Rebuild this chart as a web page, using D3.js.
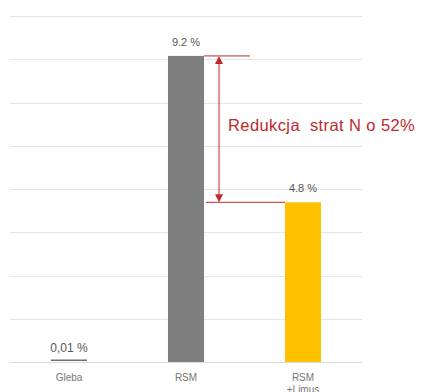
<!DOCTYPE html>
<html><head><meta charset="utf-8">
<script src="https://cdn.jsdelivr.net/npm/d3@7"></script>
<style>body{margin:0;background:#fff}svg{display:block}</style>
</head><body>
<svg id="c" width="423" height="392"></svg>
<script>
const categories = ["Gleba", "RSM", "RSM\n+Limus"];
const values = [0.01, 9.2, 4.8];
const valueLabels = ["0,01 %", "9.2 %", "4.8 %"];
const colors = ["#6f6f6f", "#7f7f7f", "#ffc000"];
const gridTicks = [1.3, 2.6, 3.9, 5.2, 6.5, 7.8, 9.1, 10.4];
const annotationText = "Redukcja  strat N o 52%";

const svg = d3.select("#c");
const x = d3.scaleBand().domain(categories).range([10.5, 361.5]).paddingInner(0.692).paddingOuter(0.346);
const y = d3.scaleLinear().domain([0, 10.4]).range([362, 16]);

// gridlines
svg.append("g").selectAll("line").data(gridTicks).join("line")
  .attr("x1", 10).attr("x2", 362)
  .attr("y1", d => Math.round(y(d)) + 0.5).attr("y2", d => Math.round(y(d)) + 0.5)
  .attr("stroke", "#e4e4e4").attr("stroke-width", 1);

// baseline
svg.append("line").attr("x1", 10).attr("x2", 362)
  .attr("y1", y(0) + 0.5).attr("y2", y(0) + 0.5)
  .attr("stroke", "#d9d9d9");

// bars
svg.append("g").selectAll("rect").data(values).join("rect")
  .attr("x", (d, i) => x(categories[i]))
  .attr("width", x.bandwidth())
  .attr("y", (d) => Math.min(y(d), y(0) - 2.5))
  .attr("height", d => Math.max(y(0) - y(d), 1.5) )
  .attr("fill", (d, i) => colors[i]);

// value labels
const labelSizes = [12, 11, 11];
svg.append("g").selectAll("text").data(values).join("text")
  .attr("x", (d, i) => x(categories[i]) + x.bandwidth() / 2)
  .attr("y", (d, i) => i === 0 ? y(0) - 10 : y(d) - 10)
  .attr("text-anchor", "middle")
  .attr("font-family", "Liberation Sans, Arial, sans-serif")
  .attr("font-size", (d, i) => labelSizes[i])
  .attr("fill", "#555")
  .text((d, i) => valueLabels[i]);

// category labels
const cl = svg.append("g").selectAll("text").data(categories).join("text")
  .attr("x", d => x(d) + x.bandwidth() / 2)
  .attr("y", y(0) + 19)
  .attr("text-anchor", "middle")
  .attr("font-family", "Liberation Sans, Arial, sans-serif")
  .attr("font-size", 10)
  .attr("fill", "#777");
cl.each(function(d) {
  const parts = d.split("\n");
  d3.select(this).selectAll("tspan").data(parts).join("tspan")
    .attr("x", x(d) + x.bandwidth() / 2)
    .attr("dy", (p, j) => j === 0 ? 0 : 12)
    .text(p => p);
});

// annotation
const red = "#c0282d";
const yTop = y(values[1]), yBot = y(values[2]);
const xRsmR = x(categories[1]) + x.bandwidth();
const xLim = x(categories[2]);
const ax = xRsmR + 15;
svg.append("line").attr("x1", xRsmR).attr("x2", xRsmR + 46).attr("y1", yTop).attr("y2", yTop).attr("stroke", red).attr("stroke-width", 1);
svg.append("line").attr("x1", xRsmR + 2).attr("x2", xLim).attr("y1", yBot).attr("y2", yBot).attr("stroke", red).attr("stroke-width", 1);
svg.append("line").attr("x1", ax).attr("x2", ax).attr("y1", yTop + 5).attr("y2", yBot - 5).attr("stroke", red).attr("stroke-width", 1);
svg.append("path").attr("d", `M${ax},${yTop}L${ax-4},${yTop+8}L${ax+4},${yTop+8}Z`).attr("fill", red);
svg.append("path").attr("d", `M${ax},${yBot}L${ax-4},${yBot-8}L${ax+4},${yBot-8}Z`).attr("fill", red);
svg.append("text").attr("x", ax + 9).attr("y", (yTop + yBot) / 2 + 2)
  .attr("font-family", "Liberation Sans, Arial, sans-serif")
  .attr("font-size", 16.5).attr("fill", red)
  .attr("letter-spacing", 0.4)
  .attr("xml:space", "preserve")
  .style("white-space", "pre")
  .text(annotationText);
</script>
</body></html>
